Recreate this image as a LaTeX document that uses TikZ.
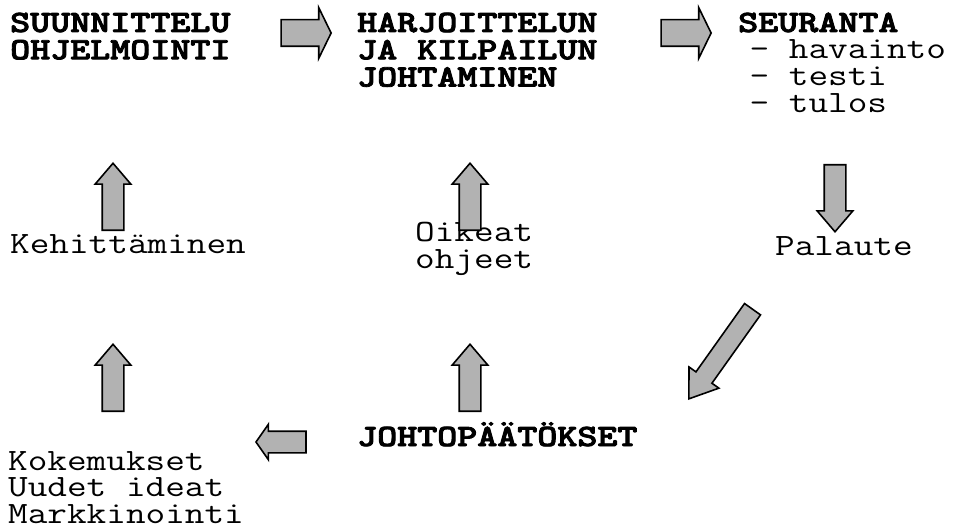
\documentclass[tikz,border=0pt]{standalone}
\usepackage{graphicx}
\usepackage{fontspec}
\newfontfamily\headfont{lmmonolt10-bold.otf}[FakeBold=2.5]
\usetikzlibrary{shapes.arrows}
\newcommand\wide[1]{\scalebox{1.23}[1]{#1}}
\newcommand\lines[1]{\wide{\begin{tabular}[t]{@{}l@{}}#1\end{tabular}}}
\tikzset{
  txt/.style={anchor=base west, inner sep=0pt,
    font=\fontsize{31}{26.5}\selectfont\ttfamily},
  headtxt/.style={anchor=base west, inner sep=0pt,
    font=\fontsize{31}{26.5}\selectfont\headfont},
  blk/.style={single arrow, draw=black, line width=1.6pt, fill=gray!60,
    inner xsep=0pt, anchor=tip, single arrow head indent=0pt, line join=miter},
  harrow/.style={blk, minimum height=50pt, inner ysep=12.5pt,
    single arrow head extend=12pt, single arrow tip angle=128},
  varrow/.style={blk, minimum height=67pt, inner ysep=10pt,
    single arrow head extend=7pt, single arrow tip angle=81},
}
\begin{document}
\begin{tikzpicture}[x=1pt,y=-1pt]
\fill[white] (0,0) rectangle (963,529);
\useasboundingbox (0,0) rectangle (963,529);
\renewcommand\arraystretch{1}

% text
\node[headtxt] (plan) at (10,32) {\lines{SUUNNITTELU\\OHJELMOINTI}};
\node[headtxt] (lead) at (357,32) {\lines{HARJOITTELUN\\JA KILPAILUN\\JOHTAMINEN}};
\node[txt] (follow) at (738,32) {\lines{{\headfont SEURANTA}\\\hspace{0.3em}- havainto\\\hspace{0.3em}- testi\\\hspace{0.3em}- tulos}};
\node[txt] (dev) at (10,254) {\wide{Kehittäminen}};
\node[txt] (right) at (415,242) {\lines{Oikeat\\ohjeet}};
\node[txt] (fb) at (775,255) {\wide{Palaute}};
\node[headtxt] (concl) at (357,446) {\wide{JOHTOPÄÄTÖKSET}};
\node[txt] (exp) at (8,470) {\lines{Kokemukset\\Uudet ideat\\Markkinointi}};

% block arrows
\node[harrow] (r1) at (332,33) {};
\node[harrow] (r2) at (712,33) {};
\node[varrow, rotate=90] (u1) at (113,162) {};
\node[varrow, rotate=90] (u2) at (470,162) {};
\node[varrow, rotate=90] (u3) at (113,343) {};
\node[varrow, rotate=90] (u4) at (470,343) {};
\node[varrow, rotate=-90] (d1) at (835,233) {};
\node[blk, rotate=-125.4, minimum height=110pt, inner ysep=9pt,
  single arrow head extend=8.5pt, single arrow tip angle=70] (g1) at (688,400) {};
\node[blk, rotate=180, minimum height=50pt, inner ysep=10pt,
  single arrow head extend=7pt, single arrow tip angle=110] (l1) at (255,442) {};
\end{tikzpicture}
\end{document}
